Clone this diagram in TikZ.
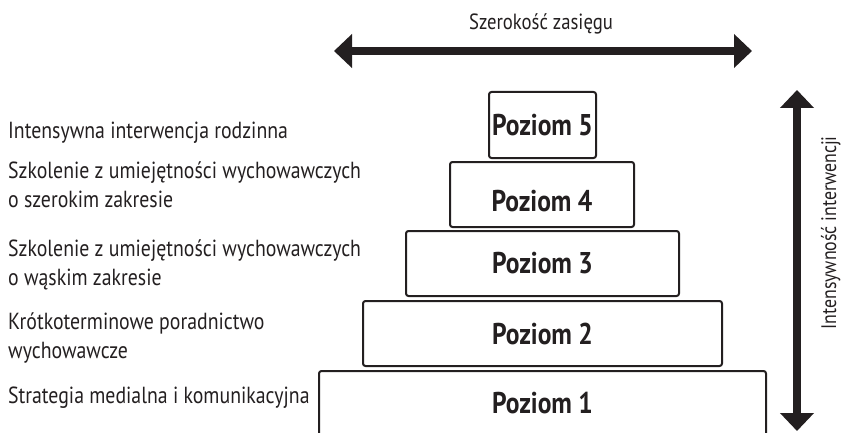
\documentclass[tikz,border=0pt]{standalone}
\usepackage{fontspec}
\setmainfont{PT Sans}[FakeStretch=0.85]
\usetikzlibrary{arrows.meta}
\definecolor{ink}{HTML}{231F20}
\begin{document}
\begin{tikzpicture}[x=1pt,y=-1pt,
  every node/.style={text=ink},
  levelfont/.style={font=\fontsize{30}{32}\selectfont\bfseries},
  level/.style={draw=ink, line width=2pt, rounded corners=2.5pt, inner sep=0pt, levelfont},
  note/.style={anchor=base west, inner sep=0pt, align=left,
    font=\fontsize{23.3}{28.5}\selectfont},
  axis/.style={draw=ink, line width=8pt,
    {Triangle[length=18pt,width=33pt]}-{Triangle[length=18pt,width=33pt]}}]
  \useasboundingbox (0,0) rectangle (843,433);

  % levels of the pyramid
  \node[level, minimum width=107pt, minimum height=66pt] (p5) at (542.5,125) {Poziom 5};
  \node[level, minimum width=184pt, minimum height=65pt,
        label={[yshift=-7pt, levelfont, text=ink]center:Poziom 4}] (p4) at (542,194.5) {};
  \node[level, minimum width=273pt, minimum height=65pt] (p3) at (542.5,263.5) {Poziom 3};
  \node[level, minimum width=359pt, minimum height=65pt] (p2) at (542.5,333.5) {Poziom 2};
  \node[level, minimum width=447pt, minimum height=65pt] (p1) at (542.5,403.5) {Poziom 1};

  % descriptions of the levels (base anchor sits on the last line)
  \node[note] (d5) at (8,139) {Intensywna interwencja rodzinna};
  \node[note] (d4) at (8,207) {Szkolenie z umiejętności wychowawczych\\o szerokim zakresie};
  \node[note] (d3) at (8,285) {Szkolenie z umiejętności wychowawczych\\o wąskim zakresie};
  \node[note] (d2) at (8,358) {Krótkoterminowe poradnictwo\\wychowawcze};
  \node[note] (d1) at (8,403) {Strategia medialna i komunikacyjna};

  % axes
  \coordinate (wl) at (334,51);
  \coordinate (wr) at (752,51);
  \draw[axis] (wl) -- (wr);
  \node[font=\fontsize{22}{27}\selectfont, anchor=base] (wt) at (541,30) {Szerokość zasięgu};

  \coordinate (it) at (797,90);
  \coordinate (ib) at (797,431);
  \draw[axis] (it) -- (ib);
  \node[font=\fontsize{21}{27}\selectfont, rotate=90, anchor=base] (itx) at (836,233) {Intensywność interwencji};
\end{tikzpicture}
\end{document}
